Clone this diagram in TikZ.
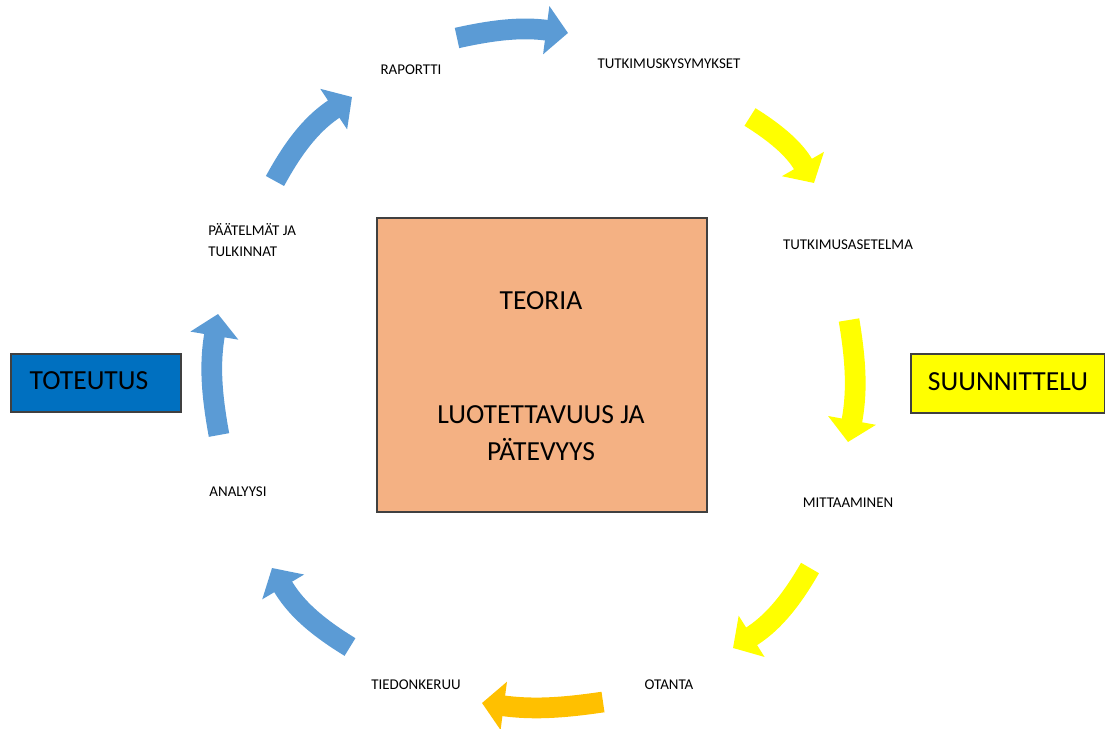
\documentclass[tikz,border=0pt]{standalone}
\usepackage{fontspec}
\setmainfont{Carlito}
\usetikzlibrary{arrows.meta}

\definecolor{sininen}{HTML}{5B9BD5}
\definecolor{keltainen}{HTML}{FFFF00}
\definecolor{oranssi}{HTML}{FFC000}
\definecolor{lohi}{HTML}{F4B183}
\definecolor{tsininen}{HTML}{0070C0}

\begin{document}
\begin{tikzpicture}[x=0.02cm, y=0.02cm,
    lbl/.style={font=\fontsize{8.5}{11.9}\selectfont, inner sep=0pt},
    iso/.style={font=\fontsize{15.7}{21}\selectfont, inner sep=0pt, align=center},
    laatikko/.style={draw=black!75, line width=0.8pt},
    nuoli/.style={line width=11.8pt, -{Triangle[length=12.5pt, width=27pt]}, bend left=#1},
    nuoli/.default=12]
  \useasboundingbox (0,0) rectangle (1105,728);

  % keskilaatikko
  \draw[laatikko, fill=lohi] (377,510) rectangle (707,216);
  \node[iso] (teoria) at (541,427) {TEORIA};
  \node[iso] (luot) at (541,295) {LUOTETTAVUUS JA\\PÄTEVYYS};

  % vaiheet
  \draw[laatikko, fill=tsininen] (11,374) rectangle (181,316);
  \node[iso] (toteutus) at (89,347) {TOTEUTUS};
  \draw[laatikko, fill=keltainen] (911,374) rectangle (1104.6,315);
  \node[iso] (suunn) at (1008,346) {SUUNNITTELU};

  % tekstit kehalla
  \node[lbl] (raportti) at (411,658) {RAPORTTI};
  \node[lbl] (kysym) at (669,664) {TUTKIMUSKYSYMYKSET};
  \node[lbl] (asetelma) at (848,483) {TUTKIMUSASETELMA};
  \node[lbl] (mitt) at (848,225) {MITTAAMINEN};
  \node[lbl] (otanta) at (669,43) {OTANTA};
  \node[lbl] (keruu) at (416,43) {TIEDONKERUU};
  \node[lbl] (analyysi) at (238,236) {ANALYYSI};
  \node[lbl, anchor=west, align=left] (paat) at (208,488) {PÄÄTELMÄT JA\\TULKINNAT};

  % nuolten paat
  \coordinate (n1a) at (457,690); \coordinate (n1b) at (568,695);
  \coordinate (n2a) at (750,611); \coordinate (n2b) at (814,545);
  \coordinate (n3a) at (849,408); \coordinate (n3b) at (848,286);
  \coordinate (n4a) at (810,160); \coordinate (n4b) at (733,80);
  \coordinate (n5a) at (603,26);  \coordinate (n5b) at (482,25);
  \coordinate (n6a) at (350,81);  \coordinate (n6b) at (272,160);
  \coordinate (n7a) at (219,293); \coordinate (n7b) at (218,414);
  \coordinate (n8a) at (275,547); \coordinate (n8b) at (352,631);

  \draw[nuoli=10, sininen] (n1a) to (n1b);
  \draw[nuoli=14, keltainen] (n2a) to (n2b);
  \draw[nuoli=10, keltainen] (n3a) to (n3b);
  \draw[nuoli=14, keltainen] (n4a) to (n4b);
  \draw[nuoli=8, oranssi] (n5a) to (n5b);
  \draw[nuoli=14, sininen] (n6a) to (n6b);
  \draw[nuoli=10, sininen] (n7a) to (n7b);
  \draw[nuoli=14, sininen] (n8a) to (n8b);
\end{tikzpicture}
\end{document}
